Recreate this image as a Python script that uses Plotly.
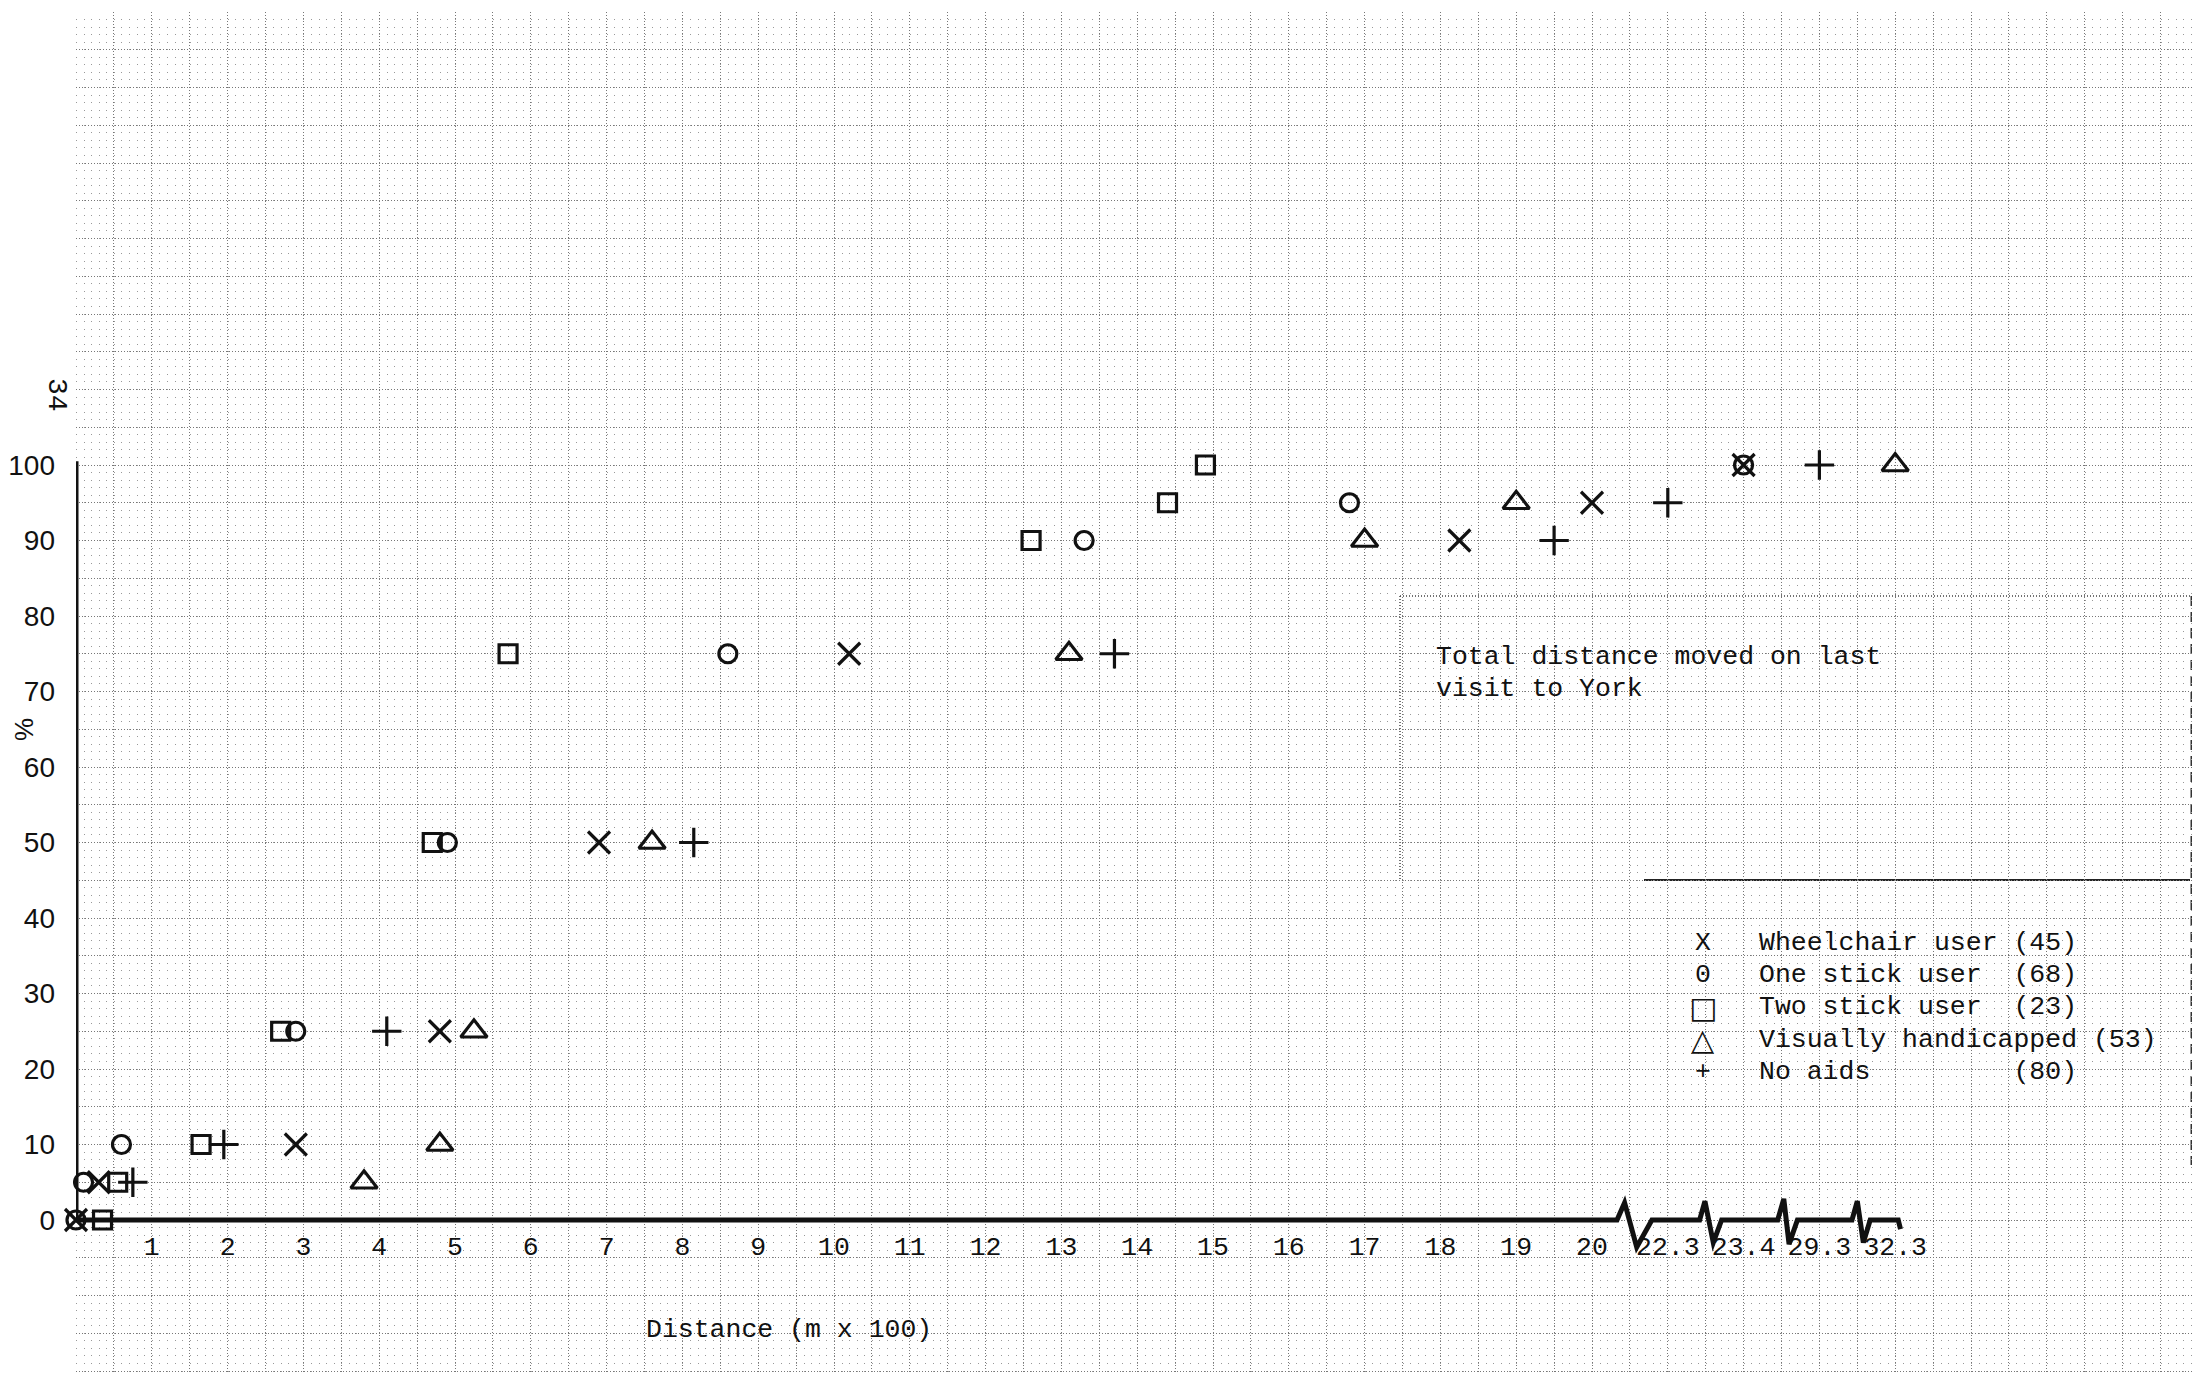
import numpy as np
import plotly.graph_objects as go

# ---------------- data (distance in m x 100, cumulative %) ----------------
wheelchair_x = [0, 0.3, 2.9, 4.8, 6.9, 10.2, 18.25, 20.0, 23.4]
wheelchair_y = [0, 5, 10, 25, 50, 75, 90, 95, 100]

one_stick_x = [0, 0.1, 0.6, 2.9, 4.9, 8.6, 13.3, 16.8, 23.4]
one_stick_y = [0, 5, 10, 25, 50, 75, 90, 95, 100]

two_stick_x = [0.35, 0.55, 1.65, 2.7, 4.7, 5.7, 12.6, 14.4, 14.9]
two_stick_y = [0, 5, 10, 25, 50, 75, 90, 95, 100]

visual_x = [3.8, 4.8, 5.25, 7.6, 13.1, 17.0, 19.0, 32.3]
visual_y = [5, 10, 25, 50, 75, 90, 95, 100]

no_aids_x = [0.75, 1.95, 4.1, 8.15, 13.7, 19.5, 22.3, 29.3]
no_aids_y = [5, 10, 25, 50, 75, 90, 95, 100]

series_names = [
    "Wheelchair user (45)",
    "One stick user  (68)",
    "Two stick user  (23)",
    "Visually handicapped (53)",
    "No aids         (80)",
]
legend_symbols = ["X", "0", "\u25a1", "\u25b3", "+"]

x_tick_values = list(range(1, 21)) + [22.3, 23.4, 29.3, 32.3]
y_tick_values = list(range(0, 101, 10))

title_lines = ["Total distance moved on last", "visit to York"]
x_title = "Distance (m x 100)"
y_title = "%"
page_number = "34"

# ---------------- broken distance scale ----------------
# beyond 20 the axis is broken: each later tick takes one unit of space
break_knots_dist = [0, 20, 22.3, 23.4, 29.3, 32.3]
break_knots_pos = [0, 20, 21, 22, 23, 24]


def to_axis(d):
    return np.interp(np.asarray(d, dtype=float), break_knots_dist, break_knots_pos)


# ---------------- geometry ----------------
# the page body has an 8px default margin; the figure is sized so that it
# fills the 2200x1374 window exactly.  Page coordinates are used below.
BODY = 8
W, H = 2200 - BODY, 1374 - BODY
ML, MT = 76 - BODY, 12 - BODY
PW, PH = W - ML, H - MT
X_UNIT = 75.8      # px per distance unit
Y_UNIT = 7.55      # px per percent
Y0_PAGE = 1220     # page row of 0 %
x_range = [0, PW / X_UNIT]
y_range = [-(1374 - Y0_PAGE) / Y_UNIT, (Y0_PAGE - 12) / Y_UNIT]


def paper(px, py):
    """page pixel -> paper fraction"""
    return (px - BODY - ML) / PW, (H - (py - BODY)) / PH


MONO = "Courier New, Liberation Mono, monospace"
SANS = "Liberation Sans, Arial, sans-serif"
SYM = "DejaVu Sans, Liberation Mono, sans-serif"
INK = "#111111"
GRID_LINE = "#777777"
GRID_DOT = "#999999"

# ---------------- ticks / graph-paper grid ----------------
x_label_map = {round(float(to_axis(v)) * 2) / 2: str(v) for v in x_tick_values}
x_grid = np.arange(0, x_range[1] + 1e-9, 0.5)
x_text = [x_label_map.get(round(v * 2) / 2, "") for v in x_grid]

y_grid = np.arange(-20, 161, 5)
y_text = [str(int(v)) if int(v) in y_tick_values else "" for v in y_grid]

fig = go.Figure()

styles = [
    dict(symbol="x-thin-open", size=22),
    dict(symbol="circle-open", size=18),
    dict(symbol="square-open", size=18),
    dict(symbol="triangle-up-open", size=23),
    dict(symbol="cross-thin-open", size=21),
]
series = [
    (wheelchair_x, wheelchair_y),
    (one_stick_x, one_stick_y),
    (two_stick_x, two_stick_y),
    (visual_x, visual_y),
    (no_aids_x, no_aids_y),
]
for (sx, sy), name, st in zip(series, series_names, styles):
    fig.add_trace(go.Scatter(
        x=to_axis(sx), y=sy, mode="markers",
        name=name, showlegend=False,
        cliponaxis=False,
        marker=dict(symbol=st["symbol"], size=st["size"], color=INK,
                    line=dict(color=INK, width=3.2)),
    ))

# ---------------- shapes: boxes and hand-drawn axes ----------------
shapes = []
# title box (white, covers the graph paper)
x0, y0 = paper(1400, 596)
x1, y1 = paper(2200, 880)
shapes.append(dict(type="rect", xref="paper", yref="paper", x0=x0, y0=y1, x1=x1, y1=y0,
                   fillcolor="white", line=dict(width=0), layer="between"))
# legend box
lx0, ly0 = paper(1644, 880)
lx1, ly1 = paper(2190, 1162)
shapes.append(dict(type="rect", xref="paper", yref="paper", x0=lx0, y0=ly1, x1=lx1, y1=ly0,
                   fillcolor="white", line=dict(width=0), layer="between"))
# dotted edges of title box
shapes.append(dict(type="line", xref="paper", yref="paper", x0=x0, y0=y0, x1=x1, y1=y0,
                   line=dict(color="#444444", width=1.5, dash="1px,2px"), layer="between"))
shapes.append(dict(type="line", xref="paper", yref="paper", x0=x0, y0=y0, x1=x0, y1=y1,
                   line=dict(color="#444444", width=1.5, dash="1px,2px"), layer="between"))
# solid top edge of legend box
shapes.append(dict(type="line", xref="paper", yref="paper", x0=lx0, y0=ly0, x1=lx1, y1=ly0,
                   line=dict(color="#222222", width=2), layer="between"))
# right page edge
ex, ey0 = paper(2192, 596)
_, ey1 = paper(2192, 1165)
shapes.append(dict(type="line", xref="paper", yref="paper", x0=ex, y0=ey0, x1=ex, y1=ey1,
                   line=dict(color="#333333", width=3, dash="10px,6px"), layer="between"))

# y axis line
shapes.append(dict(type="line", xref="x", yref="y", x0=0, y0=0, x1=0, y1=100.5,
                   line=dict(color=INK, width=5), layer="between"))
# x axis line with break zig-zags
zig = [(20.33, 20.43, 20.59, 20.79, 2.3, 3.6),
       (21.42, 21.49, 21.60, 21.71, 2.5, 3.0),
       (22.45, 22.53, 22.60, 22.71, 2.8, 3.2),
       (23.43, 23.50, 23.58, 23.67, 2.5, 3.0)]
path = "M0,0"
for a, p, t, b, up, dn in zig:
    path += f" L{a},0 L{p},{up} L{t},{-dn} L{b},0"
path += " L24.04,0 L24.07,-1.2"
shapes.append(dict(type="path", xref="x", yref="y", path=path,
                   line=dict(color=INK, width=5), layer="between"))

# ---------------- annotations ----------------
annotations = []
TYPE_FONT = dict(family=MONO, size=26.5, color=INK)
tx, _ = paper(1434, 0)
for line, py in zip(title_lines, [657, 689]):
    annotations.append(dict(xref="paper", yref="paper", x=tx, y=paper(0, py)[1],
                            xanchor="left", yanchor="middle", showarrow=False, text=line,
                            font=TYPE_FONT))

# typed legend
sx_, _ = paper(1703, 0)
txl, _ = paper(1757, 0)
for i, (sym, name) in enumerate(zip(legend_symbols, series_names)):
    py = 943 + i * 32.2
    yy = paper(0, py)[1]
    sym_font = TYPE_FONT if sym in ("X", "0", "+") else dict(family=SYM, size=30, color=INK)
    annotations.append(dict(xref="paper", yref="paper", x=sx_, y=yy, xanchor="center",
                            yanchor="middle", showarrow=False, text=sym, font=sym_font))
    annotations.append(dict(xref="paper", yref="paper", x=txl, y=yy, xanchor="left",
                            yanchor="middle", showarrow=False,
                            text=name.replace(" ", "\u00a0"), font=TYPE_FONT))

ax_, ay_ = paper(644, 1330)
annotations.append(dict(xref="paper", yref="paper", x=ax_, y=ay_, xanchor="left",
                        yanchor="middle", showarrow=False, text=x_title, font=TYPE_FONT))
annotations.append(dict(xref="paper", yref="paper", x=paper(24, 0)[0], y=paper(0, 730)[1],
                        xanchor="center", yanchor="middle", showarrow=False, text=y_title,
                        textangle=-90, font=dict(family=SANS, size=26, color=INK)))
annotations.append(dict(xref="paper", yref="paper", x=paper(56, 0)[0], y=paper(0, 395)[1],
                        xanchor="center", yanchor="middle", showarrow=False, text=page_number,
                        textangle=90, font=dict(family=MONO, size=28, color=INK)))

fig.update_layout(
    width=W, height=H,
    margin=dict(l=ML, r=0, t=MT, b=0, pad=0, autoexpand=False),
    paper_bgcolor="white", plot_bgcolor="white",
    showlegend=False,
    xaxis=dict(
        range=x_range, domain=[0, 1], anchor="free", automargin=False,
        position=(0 - y_range[0]) / (y_range[1] - y_range[0]),
        tickmode="array", tickvals=x_grid, ticktext=x_text,
        ticks="", showline=False, zeroline=False,
        showgrid=True, gridcolor=GRID_LINE, gridwidth=1, griddash="1px,2px",
        tickfont=TYPE_FONT,
        ticklabelstandoff=7, fixedrange=True,
    ),
    yaxis=dict(
        range=y_range, domain=[0, 1], automargin=False,
        tickmode="array", tickvals=y_grid, ticktext=y_text,
        ticks="", showline=False, zeroline=False,
        showgrid=True, gridcolor=GRID_LINE, gridwidth=1, griddash="1px,2px",
        minor=dict(tick0=0, dtick=1, showgrid=True, gridcolor=GRID_DOT,
                   gridwidth=1, griddash="1px,6.58px"),
        tickfont=dict(family=SANS, size=28, color=INK),
        ticklabelstandoff=20, fixedrange=True,
    ),
    shapes=shapes,
    annotations=annotations,
)

fig.write_html("out.html")
